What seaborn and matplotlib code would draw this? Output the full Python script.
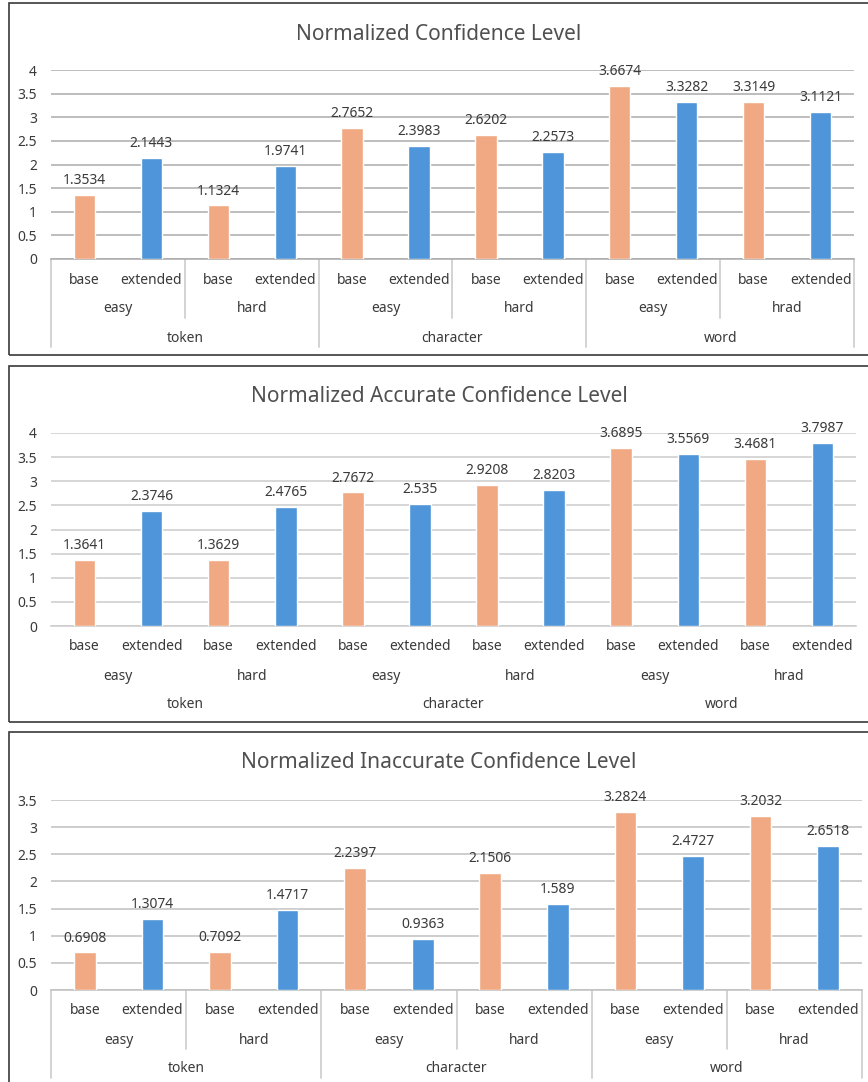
import matplotlib
matplotlib.use("Agg")
import matplotlib.pyplot as plt
import matplotlib.transforms as mtransforms
from matplotlib.patches import Rectangle
from matplotlib.lines import Line2D
import seaborn as sns
import pandas as pd

# ---------------- data ----------------
tokenizations = ["token", "character", "word"]
difficulties = ["easy", "hard", "easy", "hard", "easy", "hrad"]
methods = ["base", "extended"]

titles = [
    "Normalized Confidence Level",
    "Normalized Accurate Confidence Level",
    "Normalized Inaccurate Confidence Level",
]
confidence = [1.3534, 2.1443, 1.1324, 1.9741, 2.7652, 2.3983,
              2.6202, 2.2573, 3.6674, 3.3282, 3.3149, 3.1121]
accurate = [1.3641, 2.3746, 1.3629, 2.4765, 2.7672, 2.535,
            2.9208, 2.8203, 3.6895, 3.5569, 3.4681, 3.7987]
inaccurate = [0.6908, 1.3074, 0.7092, 1.4717, 2.2397, 0.9363,
              2.1506, 1.589, 3.2824, 2.4727, 3.2032, 2.6518]
y_max = [4, 4, 3.5]

# ---------------- style ----------------
sns.set_style("white")
plt.rcParams["font.family"] = ["Noto Sans", "DejaVu Sans"]

W, H = 868, 1082
fig = plt.figure(figsize=(W / 100, H / 100), dpi=100)

ORANGE = "#F1A983"
BLUE = "#4E95D9"
TXT = "#3A3A3A"
TITLE_C = "#505050"

# layout (pixels): box top/bottom, plot left/right/top/bottom, separators
layouts = [
    dict(box=(3, 355), plot=(51, 854, 70, 259), sep=True, grid="#ABABAB"),
    dict(box=(366, 722), plot=(51, 856, 433, 626), sep=False, grid="#CCCCCC"),
    dict(box=(732, 1095), plot=(51, 862, 800, 990), sep=True, grid="#C0C0C0"),
]
series_list = [confidence, accurate, inaccurate]

for title, vals, ymax, lay in zip(titles, series_list, y_max, layouts):
    # box
    bt, bb = lay["box"]
    fig.patches.append(Rectangle((9 / W, 1 - bb / H), (W + 20 - 9) / W, (bb - bt) / H,
                                 transform=fig.transFigure, fill=False,
                                 edgecolor="#3a3a3a", linewidth=1.2, zorder=0))
    l, r, t, b = lay["plot"]
    ax = fig.add_axes([l / W, 1 - b / H, (r - l) / W, (b - t) / H])

    rows = []
    i = 0
    for ti, tok in enumerate(tokenizations):
        for di in range(2):
            diff = difficulties[ti * 2 + di]
            for m in methods:
                rows.append(dict(key=f"{tok}|{diff}|{di}|{m}", method=m, value=vals[i]))
                i += 1
    df = pd.DataFrame(rows)
    order = list(df["key"])
    sns.barplot(data=df, x="key", y="value", hue="method", order=order,
                hue_order=methods, palette=[ORANGE, BLUE], dodge=False,
                saturation=1, width=0.32, ax=ax, legend=False, zorder=3)
    for c in ax.containers:
        ax.bar_label(c, fmt="{:g}", padding=5, fontsize=10, color=TXT)

    ax.set_xlim(-0.5, len(order) - 0.5)
    ax.set_ylim(0, ymax)
    ticks = [k * 0.5 for k in range(int(ymax / 0.5) + 1)]
    ax.set_yticks(ticks)
    ax.set_yticklabels([f"{v:g}" for v in ticks], fontsize=10, color=TXT)
    ax.tick_params(axis="y", length=0, pad=10)
    ax.yaxis.grid(True, color=lay["grid"], linewidth=1.1, zorder=0)
    ax.set_axisbelow(True)
    for s in ["left", "right", "top"]:
        ax.spines[s].set_visible(False)
    ax.spines["bottom"].set_color(lay["grid"])
    ax.spines["bottom"].set_linewidth(1.1)
    ax.set_xticks([])
    ax.set_xlabel("")
    ax.set_ylabel("")
    ax.set_title("")

    base = mtransforms.blended_transform_factory(ax.transData, ax.transAxes)

    def off(dy):
        return mtransforms.offset_copy(base, fig=fig, x=0, y=-dy, units="dots")

    # level 1 labels
    for k, row in df.iterrows():
        ax.text(k, 0, row["method"], transform=off(21), ha="center", va="center",
                fontsize=10, color=TXT)
    # level 2 labels
    for k, diff in enumerate(difficulties):
        ax.text(2 * k + 0.5, 0, diff, transform=off(50), ha="center", va="center",
                fontsize=10, color=TXT)
    # level 3 labels
    for k, tok in enumerate(tokenizations):
        ax.text(4 * k + 1.5, 0, tok, transform=off(79), ha="center", va="center",
                fontsize=10, color=TXT)

    if lay["sep"]:
        sep_c = "#D0D0D0"
        h_px = b - t
        for xb in [-0.5, 3.5, 7.5, 11.5]:
            ax.add_line(Line2D([xb, xb], [0, -88 / h_px], transform=base,
                               color=sep_c, linewidth=1.3, clip_on=False))
        for xb in [1.5, 5.5, 9.5]:
            ax.add_line(Line2D([xb, xb], [0, -59 / h_px], transform=base,
                               color=sep_c, linewidth=1.3, clip_on=False))

    # title
    title_y = bt + 31
    fig.text(439 / W, 1 - title_y / H, title, ha="center", va="center",
             fontsize=15, color=TITLE_C)

fig.savefig("out.png", dpi=100, facecolor="white")
